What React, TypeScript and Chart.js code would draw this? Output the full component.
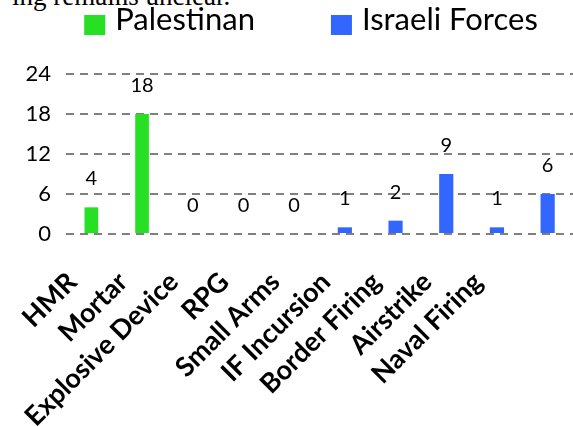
import React, { useEffect, useRef } from "react";
import { Chart, registerables } from "chart.js";

Chart.register(...registerables);

// ---- data ----
const categories = [
  "HMR",
  "Mortar",
  "Explosive Device",
  "RPG",
  "Small Arms",
  "IF Incursion",
  "Border Firing",
  "Airstrike",
  "Naval Firing",
  "",
];
const palestinian = [4, 18, 0, 0, 0, null, null, null, null, null];
const israeliForces = [null, null, null, null, null, 1, 2, 9, 1, 6];
const seriesNames = ["Palestinan", "Israeli Forces"];
const yMax = 24;
const yStep = 6;
const captionText = "ing remains unclear.";

const GREEN = "#27E023";
const BLUE = "#3366FF";

const valueLabels = {
  id: "valueLabels",
  afterDatasetsDraw(chart: any) {
    const ctx = chart.ctx;
    ctx.save();
    ctx.font = "20px Lato";
    ctx.fillStyle = "#000";
    ctx.textAlign = "center";
    ctx.textBaseline = "alphabetic";
    chart.data.datasets.forEach((ds: any, i: number) => {
      const meta = chart.getDatasetMeta(i);
      meta.data.forEach((bar: any, j: number) => {
        const v = ds.data[j];
        if (v === null || v === undefined) return;
        ctx.fillText(String(v), bar.x, bar.y - 22);
      });
    });
    ctx.restore();
  },
};

const customLegend = {
  id: "customLegend",
  afterDraw(chart: any) {
    const ctx = chart.ctx;
    ctx.save();
    ctx.font = "31px Lato";
    const boxW = 21;
    const boxH = 20;
    const gapBT = 10;
    const gapItems = 76;
    const items = chart.data.datasets.map((ds: any) => ({
      text: ds.label,
      color: ds.backgroundColor,
      w: ctx.measureText(ds.label).width,
    }));
    let total = 0;
    items.forEach((it: any, k: number) => {
      total += boxW + gapBT + it.w + (k < items.length - 1 ? gapItems : 0);
    });
    let x = 311 - total / 2;
    const baseline = 30;
    items.forEach((it: any) => {
      ctx.fillStyle = it.color;
      ctx.fillRect(x, 15, boxW, boxH);
      x += boxW + gapBT;
      ctx.fillStyle = "#000";
      ctx.textAlign = "left";
      ctx.textBaseline = "alphabetic";
      ctx.fillText(it.text, x, baseline);
      x += it.w + gapItems;
    });
    ctx.restore();
  },
};

export default function App() {
  const ref = useRef<HTMLCanvasElement | null>(null);

  useEffect(() => {
    if (!ref.current) return;
    const chart = new Chart(ref.current, {
      type: "bar",
      data: {
        labels: categories,
        datasets: [
          {
            label: seriesNames[0],
            data: palestinian,
            backgroundColor: GREEN,
            categoryPercentage: 1,
            barPercentage: 0.27,
          },
          {
            label: seriesNames[1],
            data: israeliForces,
            backgroundColor: BLUE,
            categoryPercentage: 1,
            barPercentage: 0.28,
          },
        ],
      },
      options: {
        responsive: false,
        animation: false,
        devicePixelRatio: 1,
        layout: { padding: { top: 74, right: 0, left: 0, bottom: 0 } },
        plugins: {
          legend: { display: false },
          tooltip: { enabled: false },
          title: { display: false },
        },
        scales: {
          x: {
            type: "category",
            stacked: true,
            offset: true,
            grid: { display: false, drawTicks: false },
            border: { display: false },
            ticks: {
              autoSkip: false,
              maxRotation: 45,
              minRotation: 45,
              padding: 32,
              labelOffset: -19,
              color: "#000",
              font: { family: "Lato", size: 27, weight: "bold" },
            },
            afterFit(scale: any) {
              scale.height = 193;
              scale.paddingLeft = 0;
              scale.paddingRight = 0;
            },
          },
          y: {
            stacked: true,
            min: 0,
            max: yMax,
            ticks: {
              stepSize: yStep,
              padding: 15,
              color: "#000",
              font: { family: "Lato", size: 22 },
            },
            border: { display: false, dash: [8, 6] },
            grid: {
              color: "#808080",
              lineWidth: 2,
              drawTicks: false,
            },
            afterFit(scale: any) {
              scale.width = 66;
            },
          },
        },
      } as any,
      plugins: [valueLabels, customLegend],
    });
    return () => chart.destroy();
  }, []);

  return (
    <div
      style={{
        position: "fixed",
        left: 0,
        top: 0,
        width: 573,
        height: 427,
        overflow: "hidden",
        background: "#fff",
      }}
    >
      <div
        style={{
          position: "absolute",
          left: 12,
          top: -17,
          fontFamily: "'Liberation Serif', 'Times New Roman', serif",
          fontSize: 27,
          lineHeight: "27px",
          whiteSpace: "nowrap",
          color: "#000",
        }}
      >
        {captionText}
      </div>
      <canvas
        ref={ref}
        width={573}
        height={427}
        style={{ position: "absolute", left: 0, top: 0, width: 573, height: 427 }}
      />
    </div>
  );
}
